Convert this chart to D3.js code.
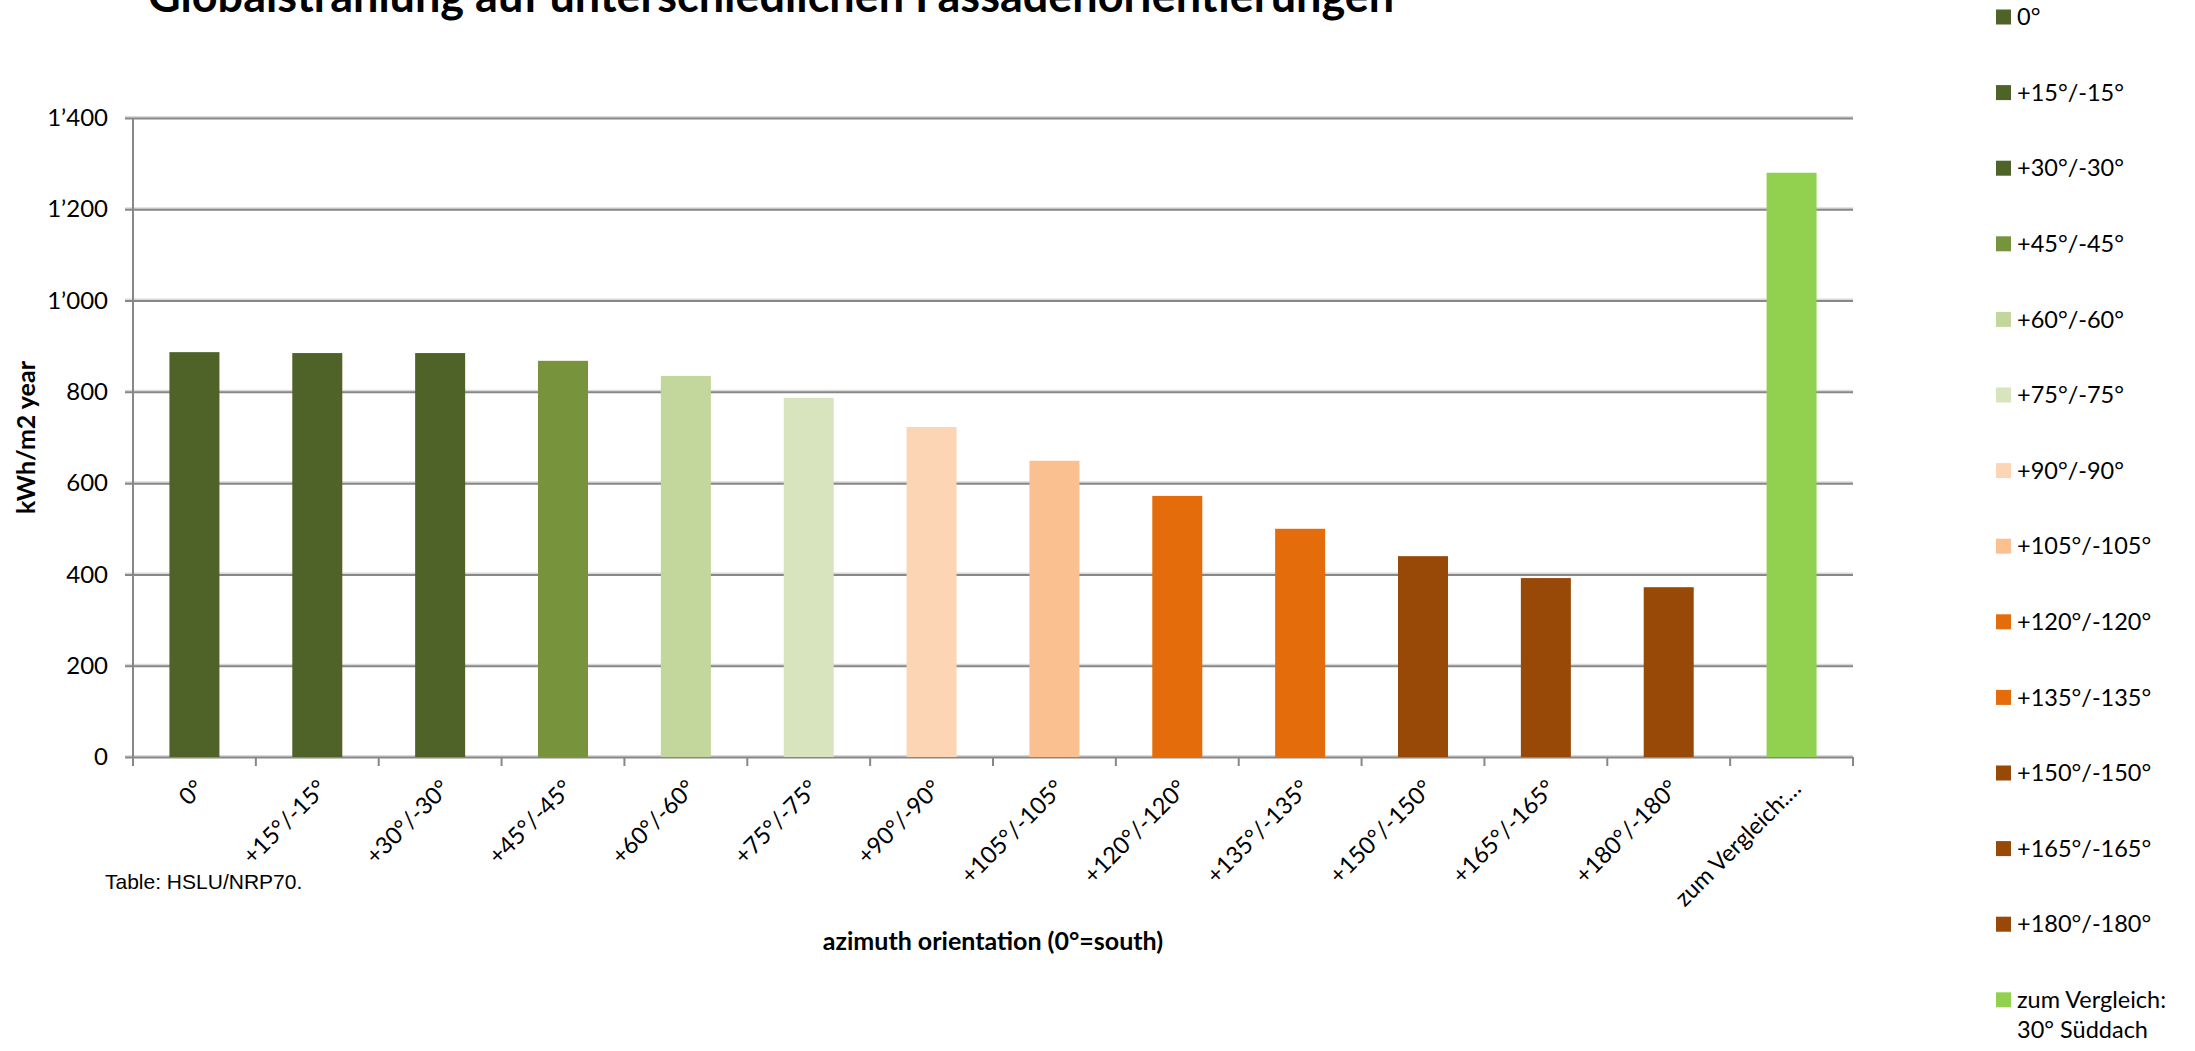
<!DOCTYPE html>
<html>
<head>
<meta charset="utf-8">
<script src="https://cdn.jsdelivr.net/npm/d3@7"></script>
<style>
  html, body { margin: 0; padding: 0; background: #fff; }
  svg { display: block; }
</style>
</head>
<body>
<svg id="chart" width="2195" height="1051"></svg>
<script>
// Azimuth orientation categories (0° = south)
const categories = [
  "0°", "+15°/-15°", "+30°/-30°", "+45°/-45°", "+60°/-60°", "+75°/-75°",
  "+90°/-90°", "+105°/-105°", "+120°/-120°", "+135°/-135°", "+150°/-150°",
  "+165°/-165°", "+180°/-180°", "zum Vergleich: 30° Süddach"
];
// Annual global irradiation, kWh/m2 year
const values = [887, 885, 885, 868, 835, 787, 723, 649, 572, 500, 440, 392, 372, 1280];
// Bar colours per orientation
const colors = [
  "#4F6228", "#4F6228", "#4F6228", "#77933C", "#C3D69B", "#D7E4BD",
  "#FCD5B5", "#FAC090", "#E46C0A", "#E46C0A", "#984807", "#984807",
  "#984807", "#92D050"
];
// Axis labels shown under each bar (long label truncated)
const tickLabels = [
  "0°", "+15°/-15°", "+30°/-30°", "+45°/-45°", "+60°/-60°", "+75°/-75°",
  "+90°/-90°", "+105°/-105°", "+120°/-120°", "+135°/-135°", "+150°/-150°",
  "+165°/-165°", "+180°/-180°", "zum Vergleich:…"
];
// Legend entries, one per category (split over lines where needed)
const legendLabels = [
  ["0°"], ["+15°/-15°"], ["+30°/-30°"], ["+45°/-45°"], ["+60°/-60°"], ["+75°/-75°"],
  ["+90°/-90°"], ["+105°/-105°"], ["+120°/-120°"], ["+135°/-135°"], ["+150°/-150°"],
  ["+165°/-165°"], ["+180°/-180°"], ["zum Vergleich:", "30° Süddach"]
];
const yTicks = [0, 200, 400, 600, 800, 1000, 1200, 1400];

const FONT = "Lato, 'Open Sans', sans-serif";
const svg = d3.select("#chart");

const plot = { left: 133, right: 1853, top: 118, bottom: 757 };

// Category slots (tick marks at slot boundaries) and the narrower bars inside them
const xSlot = d3.scaleBand().domain(categories).range([plot.left, plot.right]).padding(0);
const x = d3.scaleBand().domain(categories).range([plot.left, plot.right])
  .paddingInner(0.593).paddingOuter(0.2965);
const y = d3.scaleLinear().domain([0, 1400]).range([plot.bottom, plot.top]);

const swiss = d3.formatLocale({ decimal: ".", thousands: "’", grouping: [3], currency: ["", ""] });
const fmt = swiss.format(",");

// Title (sits at the very top edge)
svg.append("text")
  .attr("x", 148).attr("y", 12)
  .attr("font-family", FONT).attr("font-weight", 700).attr("font-size", 45)
  .attr("fill", "#000")
  .text("Globalstrahlung auf unterschiedlichen Fassadenorientierungen");

// Horizontal gridlines
const grid = svg.append("g");
grid.selectAll("line.halo").data(yTicks).join("line")
  .attr("class", "halo")
  .attr("x1", plot.left - 8).attr("x2", plot.right)
  .attr("y1", d => y(d) - 1).attr("y2", d => y(d) - 1)
  .attr("stroke", "#dadada").attr("stroke-width", 2);
grid.selectAll("line.main").data(yTicks).join("line")
  .attr("class", "main")
  .attr("x1", plot.left - 8).attr("x2", plot.right)
  .attr("y1", d => y(d) + 0.5).attr("y2", d => y(d) + 0.5)
  .attr("stroke", "#878787").attr("stroke-width", 2);

// Y axis line
svg.append("line")
  .attr("x1", plot.left).attr("x2", plot.left)
  .attr("y1", y(1400)).attr("y2", plot.bottom + 8)
  .attr("stroke", "#878787").attr("stroke-width", 2);

// X axis tick marks at category boundaries
const boundaries = categories.map(c => xSlot(c)).concat([plot.right]);
svg.append("g").selectAll("line").data(boundaries).join("line")
  .attr("x1", d => d).attr("x2", d => d)
  .attr("y1", plot.bottom).attr("y2", plot.bottom + 9)
  .attr("stroke", "#878787").attr("stroke-width", 2);

// Bars
svg.append("g").selectAll("rect").data(values).join("rect")
  .attr("x", (d, i) => x(categories[i]))
  .attr("width", x.bandwidth())
  .attr("y", d => y(d))
  .attr("height", d => y(0) - y(d))
  .attr("fill", (d, i) => colors[i]);

// Y axis tick labels via d3.axisLeft
const yAxis = d3.axisLeft(y).tickValues(yTicks).tickFormat(fmt).tickSize(0).tickPadding(25);
const yg = svg.append("g").attr("transform", `translate(${plot.left},0)`).call(yAxis);
yg.select(".domain").remove();
yg.selectAll("text")
  .attr("font-family", FONT).attr("font-size", 24).attr("fill", "#000");

// X axis labels, rotated 45°
svg.append("g").selectAll("text").data(tickLabels).join("text")
  .attr("transform", (d, i) => {
    const cx = xSlot(categories[i]) + xSlot.bandwidth() / 2;
    return `translate(${cx - 1},${plot.bottom + 21}) rotate(-45)`;
  })
  .attr("text-anchor", "end")
  .attr("dy", "0.72em")
  .attr("font-family", FONT).attr("font-size", 23.5).attr("fill", "#000")
  .text(d => d);

// Axis titles
svg.append("text")
  .attr("transform", `translate(25,${(plot.top + plot.bottom) / 2}) rotate(-90)`)
  .attr("text-anchor", "middle").attr("dominant-baseline", "central")
  .attr("font-family", FONT).attr("font-weight", 700).attr("font-size", 25)
  .attr("fill", "#000")
  .text("kWh/m2 year");

svg.append("text")
  .attr("x", (plot.left + plot.right) / 2).attr("y", 950)
  .attr("text-anchor", "middle")
  .attr("font-family", FONT).attr("font-weight", 700).attr("font-size", 25)
  .attr("fill", "#000")
  .text("azimuth orientation (0°=south)");

// Source note
svg.append("text")
  .attr("x", 105).attr("y", 889)
  .attr("font-family", "'Liberation Sans', Arial, sans-serif").attr("font-size", 21)
  .attr("fill", "#000")
  .text("Table: HSLU/NRP70.");

// Legend
const legend = svg.append("g");
const item = legend.selectAll("g").data(legendLabels).join("g")
  .attr("transform", (d, i) => `translate(1996,${17 + i * 75.6})`);
item.append("rect")
  .attr("x", 0).attr("y", -7.5).attr("width", 15).attr("height", 15)
  .attr("fill", (d, i) => colors[i]);
item.append("text")
  .attr("x", 21)
  .attr("font-family", FONT).attr("font-size", 23.5).attr("fill", "#000")
  .selectAll("tspan").data(d => d).join("tspan")
  .attr("x", 21)
  .attr("y", (d, j) => j * 30)
  .attr("dy", "0.35em")
  .text(d => d);
</script>
</body>
</html>
